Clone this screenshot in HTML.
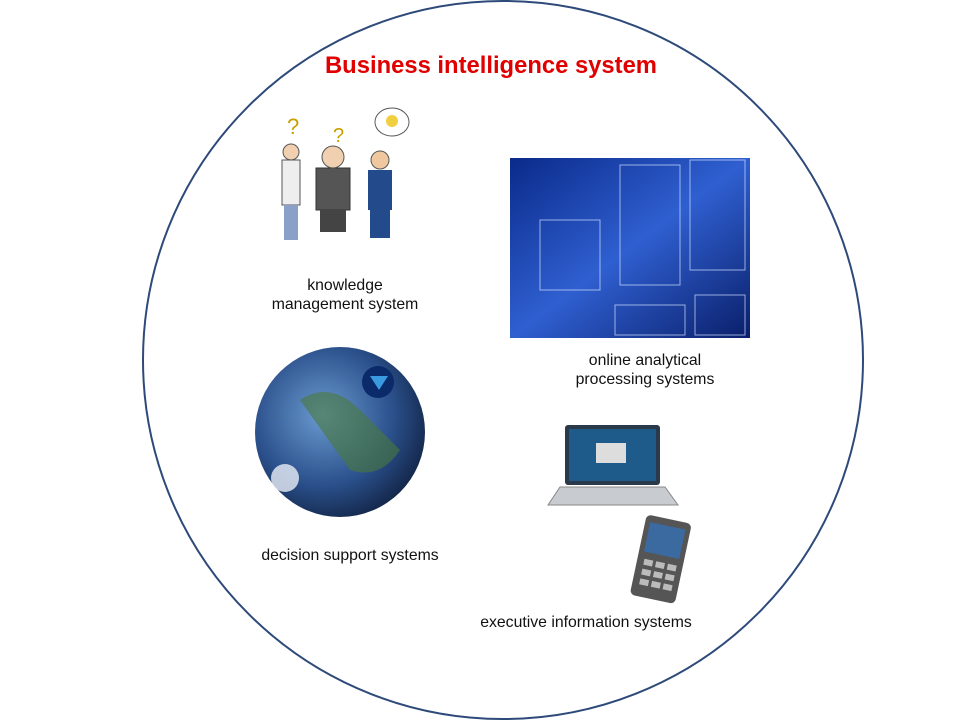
<!DOCTYPE html>
<html><head><meta charset="utf-8"><style>
body{margin:0;width:960px;height:720px;background:#fff;position:relative;overflow:hidden;font-family:"Liberation Sans",Arial,sans-serif}
.t{position:absolute;font-size:15.8px;color:#111;text-align:center;line-height:19px}
</style></head><body>
<svg width="960" height="720" style="position:absolute;left:0;top:0">
<defs>
<radialGradient id="g" cx="0.4" cy="0.4" r="0.7"><stop offset="0" stop-color="#6a9ad0"/><stop offset="0.6" stop-color="#2a4f8a"/><stop offset="1" stop-color="#0e1d3a"/></radialGradient>
<linearGradient id="db" x1="0" y1="0" x2="1" y2="1"><stop offset="0" stop-color="#0a2a8a"/><stop offset="0.5" stop-color="#2f5fd0"/><stop offset="1" stop-color="#0a1f6a"/></linearGradient>
</defs>
<ellipse cx="503" cy="360" rx="360" ry="359" fill="none" stroke="#2e4a7a" stroke-width="2"/>
<rect x="510" y="158" width="240" height="180" fill="url(#db)"/>
<g stroke="#cfe0ff" stroke-width="1" fill="none" opacity="0.7">
<rect x="620" y="165" width="60" height="120"/><rect x="690" y="160" width="55" height="110"/>
<rect x="540" y="220" width="60" height="70"/><rect x="615" y="305" width="70" height="30"/><rect x="695" y="295" width="50" height="40"/>
</g>
<circle cx="340" cy="432" r="85" fill="url(#g)"/>
<path d="M300 400 q30 -20 60 10 t40 40 q-20 30 -50 20 z" fill="#4a7a3a" opacity="0.6"/>
<circle cx="378" cy="382" r="16" fill="#0a2a6a"/><polygon points="370,376 388,376 379,390" fill="#3a9ae0"/>
<circle cx="285" cy="478" r="14" fill="#e8eef6" opacity="0.8"/>
<rect x="565" y="425" width="95" height="60" fill="#2a3a4a" rx="3"/><rect x="569" y="429" width="87" height="52" fill="#1e5a8a"/>
<rect x="596" y="443" width="30" height="20" fill="#ddd"/>
<polygon points="560,487 665,487 678,505 548,505" fill="#c8ccd0" stroke="#888"/>
<g transform="rotate(12 660 558)"><rect x="638" y="518" width="46" height="82" rx="5" fill="#555"/><rect x="643" y="525" width="36" height="30" fill="#3a6aa0"/>
<g fill="#bbb"><rect x="645" y="562" width="9" height="6"/><rect x="657" y="562" width="9" height="6"/><rect x="669" y="562" width="9" height="6"/><rect x="645" y="572" width="9" height="6"/><rect x="657" y="572" width="9" height="6"/><rect x="669" y="572" width="9" height="6"/><rect x="645" y="582" width="9" height="6"/><rect x="657" y="582" width="9" height="6"/><rect x="669" y="582" width="9" height="6"/></g></g>
<g>
<rect x="282" y="160" width="18" height="45" fill="#eee" stroke="#555"/><rect x="284" y="205" width="14" height="35" fill="#8aa0c8"/><circle cx="291" cy="152" r="8" fill="#f0d0b0" stroke="#555"/>
<rect x="316" y="168" width="34" height="42" fill="#555" stroke="#333"/><rect x="320" y="210" width="26" height="22" fill="#444"/><circle cx="333" cy="157" r="11" fill="#f0d0b0" stroke="#555"/>
<rect x="368" y="170" width="24" height="40" fill="#234a8a"/><rect x="370" y="210" width="20" height="28" fill="#234a8a"/><circle cx="380" cy="160" r="9" fill="#f0c8a0" stroke="#555"/>
<ellipse cx="392" cy="122" rx="17" ry="14" fill="#fff" stroke="#555"/><circle cx="392" cy="121" r="6" fill="#f0d040"/>
<text x="287" y="134" font-size="22" fill="#c8a000" font-family="Liberation Sans">?</text><text x="333" y="142" font-size="20" fill="#c8a000" font-family="Liberation Sans">?</text>
</g>
</svg>
<div style="position:absolute;left:0;width:982px;top:52px;text-align:center;font-size:23.8px;font-weight:bold;color:#e00000">Business intelligence system</div>
<div class="t" style="left:250px;width:190px;top:276px">knowledge<br>management system</div>
<div class="t" style="left:540px;width:210px;top:351px">online analytical<br>processing systems</div>
<div class="t" style="left:230px;width:240px;top:546px">decision support systems</div>
<div class="t" style="left:456px;width:260px;top:613px">executive information systems</div>
</body></html>
